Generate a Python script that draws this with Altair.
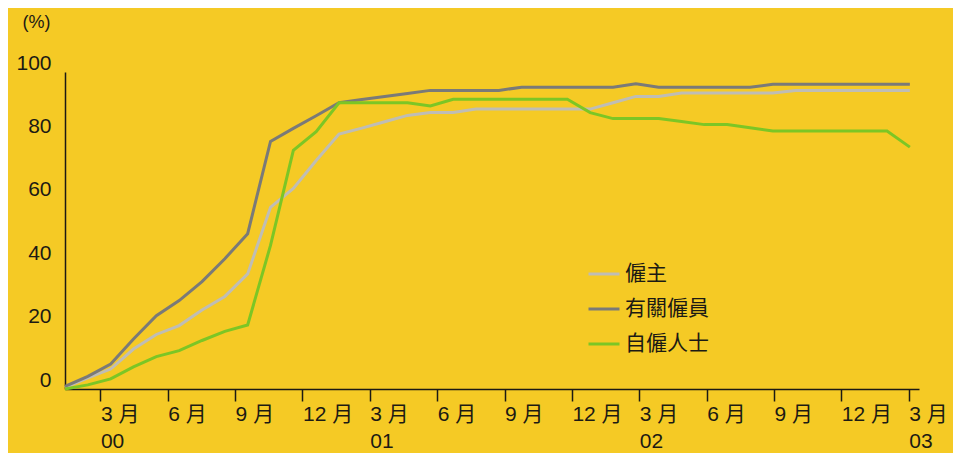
import json
import altair as alt
import pandas as pd

# ---- data ----
series_names = ["僱主", "有關僱員", "自僱人士"]

employers = [0.5, 3.5, 6.3, 12.6, 17.2, 20.0, 24.9, 29.2, 36.3, 57.3,
             63.3, 72.1, 80.4, 82.3, 84.3, 86.3, 87.2, 87.2, 88.3, 88.3,
             88.3, 88.3, 88.3, 88.3, 90.3, 92.3, 92.3, 93.4, 93.4, 93.4,
             93.4, 93.4, 94.2, 94.2, 94.2, 94.2, 94.2, 94.2]

employees = [0.8, 4.0, 7.9, 15.8, 23.1, 27.9, 33.9, 41.1, 49.0, 78.1,
             82.2, 86.2, 90.3, 91.3, 92.3, 93.2, 94.2, 94.2, 94.2, 94.2,
             95.2, 95.2, 95.2, 95.2, 95.2, 96.3, 95.2, 95.2, 95.2, 95.2,
             95.2, 96.1, 96.1, 96.1, 96.1, 96.1, 96.1, 96.1]

self_employed = [0.0, 1.3, 3.2, 7.0, 10.2, 12.1, 15.3, 18.2, 20.2, 45.3,
                 75.3, 81.2, 90.3, 90.3, 90.3, 90.3, 89.3, 91.4, 91.4, 91.4,
                 91.4, 91.4, 91.4, 87.2, 85.3, 85.3, 85.3, 84.4, 83.4, 83.4,
                 82.4, 81.4, 81.4, 81.4, 81.4, 81.4, 81.4, 76.3]

tick_months = ["3 月", "6 月", "9 月", "12 月", "3 月", "6 月", "9 月",
               "12 月", "3 月", "6 月", "9 月", "12 月", "3 月"]
tick_years = ["00", "", "", "", "01", "", "", "", "02", "", "", "", "03"]
y_ticks = [0, 20, 40, 60, 80, 100]

# ---- build table ----
rows = []
for name, vals in zip(series_names, [employers, employees, self_employed]):
    for i, v in enumerate(vals):
        rows.append({"idx": i, "value": v, "series": name})
df = pd.DataFrame(rows)

T0, TS = 1.55, 2.95
tick_pos = [round(T0 + TS * k, 3) for k in range(len(tick_months))]
label_expr = (
    f"[{json.dumps(tick_months, ensure_ascii=False)}[round((datum.value-{T0})/{TS})],"
    f" {json.dumps(tick_years)}[round((datum.value-{T0})/{TS})]]"
)

BG = "#F5CA25"
INK = "#1c1a14"
FONT = "Liberation Sans, Noto Sans CJK TC, sans-serif"

chart = (
    alt.Chart(df)
    .mark_line(strokeWidth=3, interpolate="linear")
    .encode(
        x=alt.X(
            "idx:Q",
            scale=alt.Scale(domain=[0, 37.4], nice=False, zero=False),
            axis=alt.Axis(
                values=tick_pos,
                labelExpr=label_expr,
                labelAlign="left",
                labelBaseline="top",
                labelLineHeight=27,
                labelPadding=2,
                tickSize=12,
                tickWidth=1.5,
                tickColor=INK,
                domainColor=INK,
                domainWidth=1.5,
                grid=False,
                title=None,
                labelFontSize=21,
                labelColor=INK,
                labelFont=FONT,
                labelOverlap=False,
                labelFlush=False,
            ),
        ),
        y=alt.Y(
            "value:Q",
            scale=alt.Scale(domain=[0, 100], nice=False),
            axis=alt.Axis(
                values=y_ticks,
                ticks=False,
                labelBaseline="alphabetic",
                labelOffset=-3,
                labelPadding=14,
                labelFontSize=21,
                labelColor=INK,
                labelFont=FONT,
                domainColor=INK,
                domainWidth=1.5,
                grid=False,
                title="(%)",
                titleAngle=0,
                titleAlign="left",
                titleBaseline="top",
                titleX=-43,
                titleY=-59,
                titleFontSize=18,
                titleFontWeight="normal",
                titleColor=INK,
                titleFont=FONT,
            ),
        ),
        color=alt.Color(
            "series:N",
            scale=alt.Scale(domain=series_names,
                            range=["#BFBDB5", "#7A7A78", "#7CC625"]),
            legend=alt.Legend(
                title=None,
                orient="none",
                legendX=522,
                legendY=185,
                symbolType="stroke",
                symbolSize=961,
                symbolStrokeWidth=3,
                labelFontSize=21,
                labelFont=FONT,
                labelColor=INK,
                labelOffset=4,
                rowPadding=8,
                padding=0,
            ),
        ),
        order=alt.Order("idx:Q"),
    )
    .properties(
        width=854,
        height=317,
        background=BG,
        padding={"left": 57, "top": 64, "right": 34, "bottom": 64},
        autosize=alt.AutoSizeParams(type="none"),
    )
    .configure_view(stroke=None)
)

chart.save("out.html", embed_options={"renderer": "svg", "actions": False})
